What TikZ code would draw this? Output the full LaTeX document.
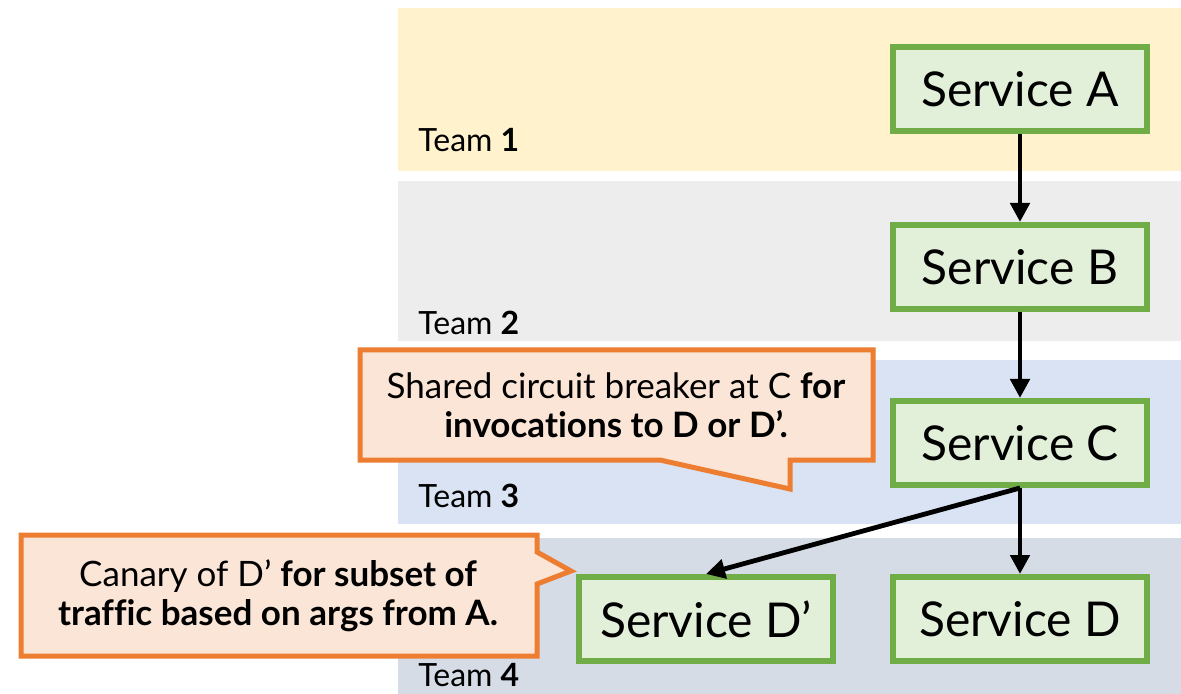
\documentclass[tikz,border=0pt]{standalone}
\usepackage{fontspec}
\setmainfont{Lato}[Ligatures=NoCommon]
\usetikzlibrary{positioning}
\usetikzlibrary{arrows.meta}
\definecolor{teamone}{HTML}{FFF2CC}
\definecolor{teamtwo}{HTML}{EDEDED}
\definecolor{teamthree}{HTML}{DAE3F3}
\definecolor{teamfour}{HTML}{D6DCE5}
\definecolor{svcfill}{HTML}{E2F0D9}
\definecolor{svcline}{HTML}{70AD47}
\definecolor{notefill}{HTML}{FBE5D6}
\definecolor{noteline}{HTML}{ED7D31}

\begin{document}
\begin{tikzpicture}
	[x=0.5pt,y=-0.5pt,>={Triangle[length=9.5pt,width=9.5pt]},
	service/.style={rectangle,draw=svcline,fill=svcfill,line width=3pt,inner sep=0pt,
		minimum width=127pt,minimum height=42pt,font=\fontsize{24}{28}\selectfont},
	team/.style={anchor=base west,inner sep=0pt,font=\fontsize{16}{19}\selectfont},
	note/.style={align=center,inner sep=0pt,font=\fontsize{17.5}{19.5}\selectfont},
	callout/.style={draw=noteline,fill=notefill,line width=2.5pt,line join=miter},
	link/.style={->,line width=2.4pt}]
	\useasboundingbox (0,0) rectangle (1181,694);
	% team bands
	\fill [teamone] (398,8) rectangle (1181,171);
	\fill [teamtwo] (398,181) rectangle (1181,341);
	\fill [teamthree] (398,360) rectangle (1181,524);
	\fill [teamfour] (398,538) rectangle (1181,694);
	\node [team] (team1) at (418,152) {Team \textbf{1}};
	\node [team] (team2) at (418,335) {Team \textbf{2}};
	\node [team] (team3) at (418,507) {Team \textbf{3}};
	\node [team] (team4) at (418,686) {Team \textbf{4}};
	% services
	\node [service] (A) at (1020,89) {Service A};
	\node [service] (B) at (1020,267) {Service B};
	\node [service] (C) at (1020,443) {Service C};
	\node [service] (D) at (1020,619) {Service D};
	\node [service] (Dp) at (706,619) {Service D’};
	\draw [link] (A) -- (B);
	\draw [link] (B) -- (C);
	\draw [link] (C) -- (D);
	\draw [link] (C.south) -- (Dp.north);
	% callouts
	\draw [callout] (360,350) -- (873,350) -- (873,460) -- (790,460) -- (790,489)
		-- (660,460) -- (360,460) -- cycle;
	\node [note] (breaker) at (616,405)
		{Shared circuit breaker at C \textbf{for}\\ \textbf{invocations to D or D’.}};
	\draw [callout] (21,535) -- (537,535) -- (537,552) -- (571,571) -- (537,584)
		-- (537,656) -- (21,656) -- cycle;
	\node [note] (canary) at (278,596)
		{Canary of D’ \textbf{for subset of}\\ \textbf{traffic based on args from A.}};
\end{tikzpicture}
\end{document}
